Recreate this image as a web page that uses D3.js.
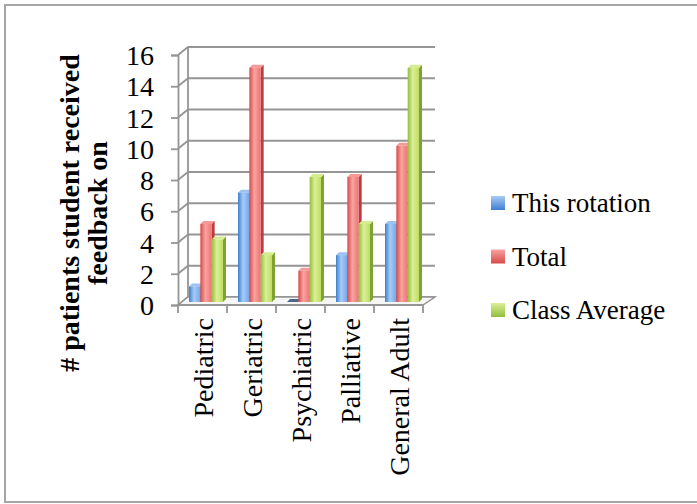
<!DOCTYPE html>
<html>
<head>
<meta charset="utf-8">
<script src="https://cdn.jsdelivr.net/npm/d3@7"></script>
<style>
  html, body { margin: 0; padding: 0; background: #fff; }
  svg { display: block; }
</style>
</head>
<body>
<svg id="chart" width="697" height="504"></svg>
<script>
// Patients with feedback, by rotation type
const categories = ["Pediatric", "Geriatric", "Psychiatric", "Palliative", "General Adult"];
const seriesNames = ["This rotation", "Total", "Class Average"];
const thisRotation = [1, 7, 0, 3, 5];
const total = [5, 15, 2, 8, 10];
const classAverage = [4, 3, 8, 5, 15];
const yTicks = [0, 2, 4, 6, 8, 10, 12, 14, 16];
const yTitleLines = ["# patients student received", "feedback on"];

const seriesValues = [thisRotation, total, classAverage];
const palette = [
  { dark: "#3d7fd0", mid: "#6fa8ec", light: "#a9cbf5", side: "#3468ad", top: "#9cc3f2" },
  { dark: "#d84a4a", mid: "#ef7272", light: "#f7a4a0", side: "#b83e3e", top: "#f59a96" },
  { dark: "#93bd3c", mid: "#bedd62", light: "#dcef98", side: "#7fa333", top: "#d5ec8f" }
];

const svg = d3.select("#chart");
const serif = "'Liberation Serif', 'DejaVu Serif', serif";

// Outer frame
svg.append("path")
  .attr("d", "M700,5 H5 V502 H700")
  .attr("fill", "none")
  .attr("stroke", "#a6a6a6")
  .attr("stroke-width", 2);

// Plot geometry (front plane + receding depth)
const front = { x0: 178, x1: 423, y0: 305, y1: 55 };
const depth = { dx: 10, dy: -8 };

const x = d3.scaleBand().domain(categories).range([front.x0, front.x1]);
const y = d3.scaleLinear().domain([0, 16]).range([front.y0, front.y1]);

// Gradients for bar faces
const defs = svg.append("defs");
palette.forEach((c, i) => {
  const g = defs.append("linearGradient").attr("id", "bar" + i)
    .attr("x1", "0").attr("x2", "1").attr("y1", "0").attr("y2", "0");
  g.append("stop").attr("offset", "0%").attr("stop-color", c.dark);
  g.append("stop").attr("offset", "45%").attr("stop-color", c.light);
  g.append("stop").attr("offset", "100%").attr("stop-color", c.mid);
});

const axisGrey = "#959595";
const grid = svg.append("g");
// Back wall gridlines with slanted connectors
yTicks.forEach(t => {
  const yy = y(t);
  grid.append("path")
    .attr("d", `M${front.x0},${yy} L${front.x0 + depth.dx},${yy + depth.dy} H${front.x1 + depth.dx + 2}`)
    .attr("fill", "none").attr("stroke", axisGrey).attr("stroke-width", 1.8);
});
// Back wall left edge
grid.append("line")
  .attr("x1", front.x0 + depth.dx).attr("x2", front.x0 + depth.dx)
  .attr("y1", y(0) + depth.dy).attr("y2", y(16) + depth.dy)
  .attr("stroke", axisGrey).attr("stroke-width", 1.8);
// Floor
grid.append("path")
  .attr("d", `M${front.x0},${y(0)} L${front.x0 + depth.dx},${y(0) + depth.dy} H${front.x1 + depth.dx + 2} L${front.x1},${y(0)} Z`)
  .attr("fill", "#f6f6f6").attr("stroke", axisGrey).attr("stroke-width", 1.5);

// Front value axis
const yAxis = d3.axisLeft(y).tickValues(yTicks).tickSize(7).tickPadding(17);
const ya = svg.append("g").attr("transform", `translate(${front.x0},0)`).call(yAxis);
ya.select(".domain").attr("stroke", axisGrey).attr("stroke-width", 1.8);
ya.selectAll(".tick line").attr("stroke", axisGrey).attr("stroke-width", 1.8);
ya.selectAll(".tick text")
  .attr("font-family", serif).attr("font-size", 28).attr("fill", "#000")
  .attr("dy", "0.34em");

// Category axis ticks along the front floor edge
const catTicks = categories.map(c => x(c)).concat([front.x1]);
svg.append("g").selectAll("line").data(catTicks).join("line")
  .attr("x1", d => d).attr("x2", d => d)
  .attr("y1", y(0)).attr("y2", y(0) + 8)
  .attr("stroke", axisGrey).attr("stroke-width", 1.8);
svg.append("line")
  .attr("x1", front.x0).attr("x2", front.x1).attr("y1", y(0)).attr("y2", y(0))
  .attr("stroke", axisGrey).attr("stroke-width", 1.8);

// Category labels, rotated
svg.append("g").selectAll("text").data(categories).join("text")
  .attr("transform", d => `translate(${x(d) + x.bandwidth() / 2 + 10},${y(0) + 13}) rotate(-90)`)
  .attr("text-anchor", "end")
  .attr("font-family", serif).attr("font-size", 28).attr("fill", "#000")
  .text(d => d);

// Bars: front face, side and top cap
const inner = d3.scaleBand().domain(d3.range(seriesNames.length))
  .range([11, 45]).paddingInner(0);
const bw = inner.bandwidth();
const bd = { dx: 3, dy: -3 };
const baseY = y(0) - 3;
const barY = v => baseY - (y(0) - y(v));

const bars = svg.append("g");
categories.forEach((cat, ci) => {
  seriesValues.forEach((vals, si) => {
    const v = vals[ci];
    const x0 = x(cat) + inner(si);
    const top = barY(v);
    const c = palette[si];
    const g = bars.append("g");
    if (v === 0) {
      g.append("path")
        .attr("d", `M${x0},${baseY} h${bw} l${bd.dx},${bd.dy} h${-bw} Z`)
        .attr("fill", "#4a6790");
      return;
    }
    g.append("path")
      .attr("d", `M${x0 + bw},${top} l${bd.dx},${bd.dy} V${baseY + bd.dy} l${-bd.dx},${-bd.dy} Z`)
      .attr("fill", c.side);
    g.append("path")
      .attr("d", `M${x0},${top} l${bd.dx},${bd.dy} h${bw} l${-bd.dx},${-bd.dy} Z`)
      .attr("fill", c.top);
    g.append("rect")
      .attr("x", x0).attr("y", top)
      .attr("width", bw).attr("height", baseY - top)
      .attr("fill", `url(#bar${si})`);
  });
});

// Value-axis title
const title = svg.append("text")
  .attr("transform", "translate(79,213) rotate(-90)")
  .attr("text-anchor", "middle")
  .attr("font-family", serif).attr("font-weight", "bold")
  .attr("font-size", 28).attr("fill", "#000");
yTitleLines.forEach((line, i) => {
  title.append("tspan").attr("x", 0).attr("dy", i === 0 ? 0 : 28).text(line);
});

// Legend
const legend = svg.append("g");
seriesNames.forEach((name, i) => {
  const ly = 203 + i * 53.5;
  const c = palette[i];
  const lg = defs.append("linearGradient").attr("id", "leg" + i)
    .attr("x1", "0").attr("x2", "0").attr("y1", "0").attr("y2", "1");
  lg.append("stop").attr("offset", "0%").attr("stop-color", c.light);
  lg.append("stop").attr("offset", "100%").attr("stop-color", c.dark);
  legend.append("rect")
    .attr("x", 491).attr("y", ly - 7).attr("width", 14).attr("height", 14)
    .attr("fill", `url(#leg${i})`);
  legend.append("text")
    .attr("x", 512).attr("y", ly + 9)
    .attr("font-family", serif).attr("font-size", 27).attr("fill", "#000")
    .text(name);
});
</script>
</body>
</html>
